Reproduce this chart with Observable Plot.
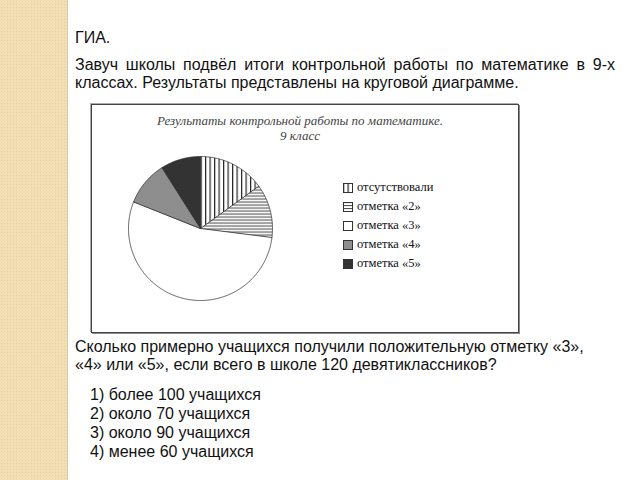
<!DOCTYPE html>
<html><head><meta charset="utf-8">
<script src="https://cdn.jsdelivr.net/npm/d3@7"></script>
<script src="https://cdn.jsdelivr.net/npm/@observablehq/plot@0.6"></script>
<style>
html,body{margin:0;padding:0;background:#fff;}
body{width:640px;height:480px;position:relative;overflow:hidden;font-family:"Liberation Sans",Arial,sans-serif;color:#111;}
#strip{position:absolute;left:0;top:0;width:67px;height:480px;background-color:#F2DFB6;
 background-image:radial-gradient(#e6d0a0 0.6px, transparent 0.8px);background-size:3px 3px;border-right:1px solid #d9c9a6;}
.t{position:absolute;font-size:16px;line-height:18px;}
#frame{position:absolute;left:91px;top:104px;width:426px;height:227px;border:1px solid #444;box-shadow:1px 1px 0 #888, -1px -1px 0 #aaa;background:#fff;}
#ctitle{position:absolute;left:0;top:8px;width:416px;text-align:center;font-family:"Liberation Serif",serif;font-style:italic;font-size:13px;line-height:15px;color:#444;}
#plot{position:absolute;left:0;top:0;}
#legend{position:absolute;left:251px;top:73px;font-family:"Liberation Serif",serif;font-size:12.5px;color:#111;}
#legend div{height:19px;line-height:19px;display:flex;align-items:center;}
#legend svg{margin-right:4px;}
</style></head>
<body>
<div id="strip"></div>
<div class="t" style="left:75px;top:29px;">ГИА.</div>
<div class="t" style="left:75px;top:56px;width:540px;text-align:justify;">Завуч школы подвёл итоги контрольной работы по математике в 9-х классах. Результаты представлены на круговой диаграмме.</div>
<div id="frame">
  <div id="ctitle">Результаты контрольной работы по математике.<br>9 класс</div>
  <div id="plot"></div>
  <div id="legend"></div>
</div>
<div class="t" style="left:75px;top:338px;width:560px;">Сколько примерно учащихся получили положительную отметку «3»,<br>«4» или «5», если всего в школе 120 девятиклассников?</div>
<div class="t" style="left:90px;top:385px;line-height:19px;">1) более 100 учащихся<br>2) около 70 учащихся<br>3) около 90 учащихся<br>4) менее 60 учащихся</div>
<script>
const categories = ["отсутствовали", "отметка «2»", "отметка «3»", "отметка «4»", "отметка «5»"];
const values = [15, 12, 54, 10, 9];
const fills = ["url(#vstripe)", "url(#hstripe)", "#ffffff", "#8e8e8e", "#333333"];

const data = categories.map((c, i) => ({category: c, value: values[i], fill: fills[i]}));
const arcs = d3.pie().sort(null).value(d => d.value)(data);

// Build slice outlines (centre + arc samples) from the pie angles
const R = 72;
const slices = arcs.map(a => {
  const pts = [{x: 0, y: 0}];
  const n = Math.max(4, Math.ceil((a.endAngle - a.startAngle) / 0.01));
  for (let k = 0; k <= n; k++) {
    const t = a.startAngle + (a.endAngle - a.startAngle) * k / n;
    pts.push({x: R * Math.sin(t), y: -R * Math.cos(t)});
  }
  return {category: a.data.category, fill: a.data.fill, pts};
});

const W = 426, H = 227, cx = 108, cy = 123;
const chart = Plot.plot({
  width: W, height: H,
  margin: 0,
  x: {domain: [-cx, W - cx], range: [0, W], axis: null},
  y: {domain: [-cy, H - cy], range: [0, H], axis: null},
  marks: slices.map(s => Plot.line(s.pts, {x: "x", y: "y", curve: "linear-closed", fill: s.fill, stroke: "#333", strokeWidth: 0.8}))
});
chart.insertAdjacentHTML("afterbegin", `<defs>
<pattern id="vstripe" patternUnits="userSpaceOnUse" width="4.5" height="4"><rect width="4.5" height="4" fill="#fff"/><rect x="0" width="1.2" height="4" fill="#222"/></pattern>
<pattern id="hstripe" patternUnits="userSpaceOnUse" width="3" height="3"><rect width="3" height="3" fill="#fff"/><rect y="0" width="3" height="1.1" fill="#555"/></pattern>
</defs>`);
document.getElementById("plot").append(chart);

const leg = document.getElementById("legend");
data.forEach(d => {
  const row = document.createElement("div");
  row.innerHTML = `<svg width="10" height="10"><rect x="0.5" y="0.5" width="9" height="9" fill="${d.fill}" stroke="#333" stroke-width="1"/></svg><span>${d.category}</span>`;
  leg.append(row);
});
</script>
</body></html>
